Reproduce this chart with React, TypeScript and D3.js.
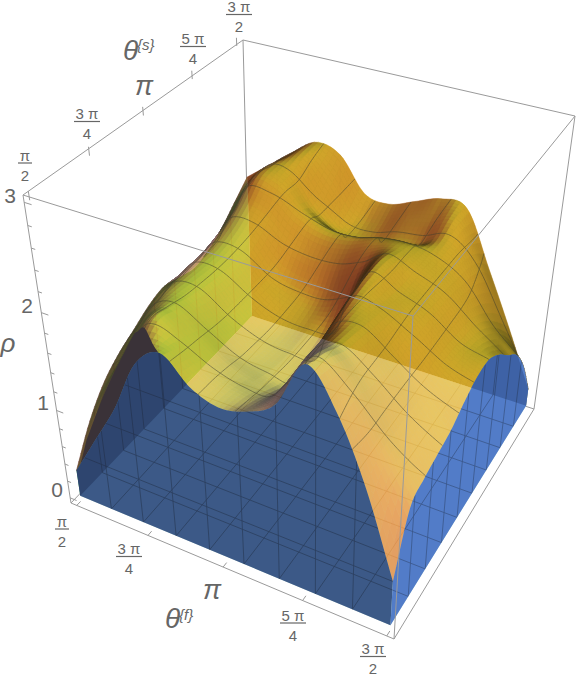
import React from 'react';
import * as d3 from 'd3';

const W = 576, H = 679;
// rho on a grid of theta_f (columns) by theta_s (rows)
const row00 = [0.30,0.75,1.20,1.75,1.95,1.72,1.62,1.68,1.85,2.32,1.98,1.35,0.50];
const row01 = [0.65,1.15,1.60,2.00,1.88,1.68,1.58,1.60,1.90,2.25,1.98,1.50,1.05];
const row02 = [0.90,1.30,1.78,1.98,1.80,1.60,1.50,1.50,1.95,2.15,1.90,1.50,1.15];
const row03 = [1.05,1.45,1.85,1.92,1.70,1.50,1.42,1.40,1.95,2.10,1.85,1.50,1.20];
const row04 = [1.15,1.50,1.85,1.88,1.62,1.45,1.38,1.40,2.00,2.05,1.80,1.50,1.25];
const row05 = [1.25,1.55,1.85,1.85,1.60,1.42,1.38,1.42,2.05,2.00,1.80,1.55,1.35];
const row06 = [1.30,1.55,1.85,1.85,1.60,1.45,1.42,1.50,2.08,1.95,1.80,1.55,1.42];
const row07 = [1.25,1.55,1.90,1.90,1.62,1.52,1.52,1.72,2.08,1.92,1.78,1.52,1.42];
const row08 = [1.20,1.55,2.00,2.00,1.80,1.72,1.75,1.90,2.02,1.92,1.76,1.48,1.30];
const row09 = [1.25,1.65,2.15,2.15,1.95,1.85,1.85,1.92,1.95,1.90,1.72,1.38,1.12];
const row10 = [1.35,1.80,2.15,2.18,1.88,1.68,1.66,1.74,1.78,1.90,1.68,1.22,0.95];
const row11 = [1.50,1.85,2.08,2.22,2.00,1.70,1.68,1.80,1.88,1.95,1.58,1.03,0.65];
const row12 = [1.65,1.85,2.05,2.22,2.15,1.82,1.78,1.88,1.98,1.95,1.40,0.82,0.20];
const rhoGrid = [row00,row01,row02,row03,row04,row05,row06,row07,row08,row09,row10,row11,row12];

const angleTicks = [0, 0.25, 0.5, 0.75, 1];
const rhoMajor = [0, 1, 2, 3];
const rhoMinor = d3.range(0, 3.01, 0.2);
const wallLevels = [0.5, 1.0, 1.5];
const meshSteps = d3.range(1, 9).map(k => k / 9);

// box corners on the page
const A = [71,503], B = [394,639], C = [534,409], D = [250,316];
const E = [23,195], F = [413,316], G = [575,116], Hh = [243,40];

function makeProjector() {
  const dx1=B[0]-C[0], dx2=D[0]-C[0], sx=A[0]-B[0]+C[0]-D[0];
  const dy1=B[1]-C[1], dy2=D[1]-C[1], sy=A[1]-B[1]+C[1]-D[1];
  const den=dx1*dy2-dx2*dy1;
  const g=(sx*dy2-dx2*sy)/den, h=(dx1*sy-sx*dy1)/den;
  const a=B[0]-A[0]+g*B[0], b=D[0]-A[0]+h*D[0], c=A[0];
  const d=B[1]-A[1]+g*B[1], e=D[1]-A[1]+h*D[1], f=A[1];
  let num=0, dn=0;
  const tops:[number[],number,number][]=[[F,1,0],[G,1,1],[Hh,0,1]];
  for (const [p,u,v] of tops) {
    const q=g*u+h*v;
    const ax=E[0]-p[0], bx=p[0]*q-(a*u+b*v);
    const ay=E[1]-p[1], by=p[1]*q-(d*u+e*v);
    num+=ax*bx+ay*by; dn+=ax*ax+ay*ay;
  }
  const t=num/dn;
  const k3=t-1, k1=E[0]*t-c, k2=E[1]*t-f;
  return (u:number,v:number,w:number):[number,number]=>{
    const q=g*u+h*v+k3*w+1;
    return [(a*u+b*v+k1*w+c)/q,(d*u+e*v+k2*w+f)/q];
  };
}
const proj = makeProjector();
const sU = d3.scaleLinear().domain([0,1]).range([0.02,0.98]);
const sW = d3.scaleLinear().domain([0,3]).range([0.02,0.98]);

function cr(p0:number,p1:number,p2:number,p3:number,t:number){
  return 0.5*((2*p1)+(-p0+p2)*t+(2*p0-5*p1+4*p2-p3)*t*t+(-p0+3*p1-3*p2+p3)*t*t*t);
}
function at(i:number,j:number){
  const n=rhoGrid.length-1;
  const ci=Math.max(0,Math.min(n,i)), cj=Math.max(0,Math.min(n,j));
  let val=rhoGrid[cj][ci];
  if(i<0) val=2*rhoGrid[cj][0]-rhoGrid[cj][1];
  if(i>n) val=2*rhoGrid[cj][n]-rhoGrid[cj][n-1];
  if(j<0) val=2*rhoGrid[0][ci]-rhoGrid[1][ci];
  if(j>n) val=2*rhoGrid[n][ci]-rhoGrid[n-1][ci];
  return val;
}
function rhoAt(s:number,t:number){
  const n=rhoGrid.length-1;
  const x=s*n, y=t*n;
  const i=Math.min(n-1,Math.floor(x)), j=Math.min(n-1,Math.floor(y));
  const fx=x-i, fy=y-j;
  const rows=[-1,0,1,2].map(dj=>cr(at(i-1,j+dj),at(i,j+dj),at(i+1,j+dj),at(i+2,j+dj),fx));
  return Math.max(0,cr(rows[0],rows[1],rows[2],rows[3],fy));
}
const pt=(s:number,t:number,r:number)=>proj(sU(s),sU(t),sW(r));
const surf=(s:number,t:number)=>pt(s,t,rhoAt(s,t));
const line=d3.line<[number,number]>().x(d=>d[0]).y(d=>d[1]);
const closed=(p:[number,number][])=>line(p)+'Z';

const xAxisV=[0.878,0.468,0], yAxisV=[-0.279,0.513,0.798], zAxisV=[0.373,-0.70,0.581];
const dot=(a:number[],b:number[])=>a[0]*b[0]+a[1]*b[1]+a[2]*b[2];
const norm=(a:number[])=>{const l=Math.hypot(a[0],a[1],a[2]);return a.map(x=>x/l);};
const lightR=norm([1.5,-1.5,2]), lightG=norm([1.5,1.5,2]), lightB=norm([-1.5,1.5,2]);
const base=[1.0,0.76,0.2];

function shade(n:number[]){
  let nv=[dot(xAxisV,n),dot(yAxisV,n),dot(zAxisV,n)];
  if(nv[2]<0) nv=nv.map(x=>-x);
  const lr=Math.max(0,dot(nv,lightR)), lg=Math.max(0,dot(nv,lightG)), lb=Math.max(0,dot(nv,lightB));
  const k=Math.min(1,nv[2]/0.5);
  const graze=0.3+0.7*k*k*(3-2*k);
  const left=nv[0]<0?1+0.5*nv[0]:1;
  const r=(0.30+0.40*lr+0.40*lg+0.20*lb)*graze;
  const g=(0.12+0.85*lg+0.10*lb)*graze*left;
  const b=(0.40+0.20*lr+0.20*lg+0.20*lb)*graze;
  return d3.rgb(255*Math.min(1,base[0]*r),255*Math.min(1,base[1]*g),255*Math.min(1,base[2]*b)).formatRgb();
}

function buildQuads(){
  const N=70;
  const q:{d:string,fill:string,depth:number}[]=[];
  for(let j=0;j<N;j++)for(let i=0;i<N;i++){
    const s0=i/N,s1=(i+1)/N,t0=j/N,t1=(j+1)/N;
    const r00=rhoAt(s0,t0),r10=rhoAt(s1,t0),r01=rhoAt(s0,t1),r11=rhoAt(s1,t1);
    const du=[sU(s1)-sU(s0),0,(sW(r10)+sW(r11)-sW(r00)-sW(r01))/2];
    const dv=[0,sU(t1)-sU(t0),(sW(r01)+sW(r11)-sW(r00)-sW(r10))/2];
    const n=norm([du[1]*dv[2]-du[2]*dv[1],du[2]*dv[0]-du[0]*dv[2],du[0]*dv[1]-du[1]*dv[0]]);
    const c=[sU((s0+s1)/2),sU((t0+t1)/2),sW((r00+r10+r01+r11)/4)];
    q.push({
      d:closed([pt(s0,t0,r00),pt(s1,t0,r10),pt(s1,t1,r11),pt(s0,t1,r01)]),
      fill:shade(n),
      depth:dot(zAxisV,c),
    });
  }
  return q.sort((a,b)=>a.depth-b.depth);
}

const KAPPA=0.11;
const samples=d3.range(0,1.0001,1/120);
const clamp01=(x:number)=>Math.max(0,Math.min(1,x));
// mesh curves bend with the height of the surface they run over
const meshAlongT=(k:number)=>line(samples.map(t=>{
  const s=clamp01(k+KAPPA*(rhoAt(k,t)-1.7));
  return surf(s,t);
}));
const meshAlongS=(k:number)=>line(samples.map(s=>{
  const t=clamp01(k-KAPPA*(rhoAt(s,k)-1.7));
  return surf(s,t);
}));

const floorPoly=closed([pt(0,0,0),pt(1,0,0),pt(1,1,0),pt(0,1,0)]);
const backWall=closed([...samples.map(s=>surf(s,1)),pt(1,1,0),pt(0,1,0)]);
const leftWall=closed([...samples.map(t=>surf(0,t)),pt(0,1,0),pt(0,0,0)]);
const frontWall=closed([...samples.map(s=>surf(s,0)),pt(1,0,0),pt(0,0,0)]);
const rightWall=closed([...samples.map(t=>surf(1,t)),pt(1,1,0),pt(1,0,0)]);
const darkS=d3.range(0.02,0.3301,0.01);
const darkFold=closed([...darkS.map(s=>surf(s,0)),...darkS.slice().reverse().map(s=>surf(s,Math.max(0,0.14*(1-Math.abs(s-0.15)/0.18))))]);

const GRAY='#9a9a9a', TXT='#666666', FONT='"Liberation Sans", Arial, sans-serif';

function Frac({x,y,num,den}:{x:number,y:number,num:string,den:string}){
  const half=num.length>1?13:7;
  return <g fill={TXT} fontFamily={FONT} textAnchor="middle" fontSize={15}>
    <text x={x} y={y-2.5}>{num}</text>
    <line x1={x-half} x2={x+half} y1={y} y2={y} stroke={TXT} strokeWidth={1.2}/>
    <text x={x} y={y+17.5}>{den}</text>
  </g>;
}
const Big=({x,y,t,size=21,italic=false}:{x:number,y:number,t:string,size?:number,italic?:boolean})=>
  <text x={x} y={y} fill={TXT} fontFamily={FONT} fontSize={size} textAnchor="middle" fontStyle={italic?'italic':'normal'}>{t}</text>;

export default function App(){
  const quads=buildQuads();
  const meshA=meshSteps.map(meshAlongT);
  const meshB=meshSteps.map(meshAlongS);
  const floorU=meshSteps.map(s=>line([pt(s,0,0),pt(s,1,0)]));
  const floorV=meshSteps.map(t=>line([pt(0,t,0),pt(1,t,0)]));
  const frontV=meshSteps.map(s=>line([pt(s,0,0),surf(s,0)]));
  const rightV=meshSteps.map(t=>line([pt(1,t,0),surf(1,t)]));
  const leftV=meshSteps.map(t=>line([pt(0,t,0),surf(0,t)]));
  const backV=meshSteps.map(s=>line([pt(s,1,0),surf(s,1)]));
  const frontH=wallLevels.map(r=>line([pt(0,0,r),pt(1,0,r)]));
  const e=(a:number[],b:number[])=>({x1:a[0],y1:a[1],x2:b[0],y2:b[1]});
  return (
    <svg width={W} height={H} viewBox={`0 0 ${W} ${H}`} style={{position:'absolute',left:0,top:0,background:'#fff'}}>
      <defs>
        <clipPath id="cf"><path d={frontWall}/></clipPath>
        <clipPath id="cr"><path d={rightWall}/></clipPath>
      </defs>
      {/* hidden box edges */}
      <g stroke={GRAY} strokeWidth={1}>
        <line {...e(A,D)}/><line {...e(D,C)}/><line {...e(D,Hh)}/>
      </g>
      {/* what the surface is seen against */}
      <path d={backWall} fill="#78722a"/>
      <path d={leftWall} fill="#6ec864"/>
      <path d={floorPoly} fill="#bed7d2"/>
      <g stroke="#6a5a30" strokeWidth={0.7} fill="none" opacity={0.4}>
        {floorU.map((d,i)=><path key={i} d={d!}/>)}
        {floorV.map((d,i)=><path key={i} d={d!}/>)}
        {backV.map((d,i)=><path key={i} d={d!}/>)}
        {leftV.map((d,i)=><path key={i} d={d!}/>)}
      </g>
      <g opacity={0.65}>
        {quads.map((q,i)=><path key={i} d={q.d} fill={q.fill} stroke={q.fill} strokeWidth={0.7}/>)}
      </g>
      <g stroke="#3c3c2c" strokeWidth={0.9} fill="none" opacity={0.55}>
        {meshA.map((d,i)=><path key={i} d={d!}/>)}
        {meshB.map((d,i)=><path key={'b'+i} d={d!}/>)}
      </g>
      <path d={darkFold} fill="#3a3238"/>
      {/* front wall, with the far walls showing through */}
      <path d={frontWall} fill="#3c5a87"/>
      <g clipPath="url(#cf)">
        <path d={leftWall} fill="#2f4670"/>
        <g stroke="#1e2a3c" strokeWidth={0.8} fill="none" opacity={0.55}>
          {floorU.map((d,i)=><path key={i} d={d!}/>)}
          {floorV.map((d,i)=><path key={i} d={d!}/>)}
          {leftV.map((d,i)=><path key={i} d={d!}/>)}
          {frontV.map((d,i)=><path key={i} d={d!}/>)}
          {frontH.map((d,i)=><path key={i} d={d!}/>)}
        </g>
      </g>
      <path d={rightWall} fill="#527dc8"/>
      <g clipPath="url(#cr)">
        <path d={backWall} fill="#3f63a6"/>
        <g stroke="#1e2a3c" strokeWidth={0.8} fill="none" opacity={0.45}>
          {floorU.map((d,i)=><path key={i} d={d!}/>)}
          {floorV.map((d,i)=><path key={i} d={d!}/>)}
          {rightV.map((d,i)=><path key={i} d={d!}/>)}
          {backV.map((d,i)=><path key={i} d={d!}/>)}
        </g>
      </g>
      {/* near box edges */}
      <g stroke={GRAY} strokeWidth={1}>
        <line {...e(A,B)}/><line {...e(B,C)}/><line {...e(A,E)}/><line {...e(B,F)}/><line {...e(C,G)}/>
        <line {...e(E,F)}/><line {...e(F,G)}/><line {...e(G,Hh)}/><line {...e(Hh,E)}/>
      </g>
      {/* ticks */}
      <g stroke={GRAY} strokeWidth={1}>
        {angleTicks.map((a,i)=>{const p=proj(sU(a),0,0),q=proj(sU(a),0.018,0);return <line key={i} {...e(p,q)}/>;})}
        {angleTicks.map((a,i)=>{const p=proj(0,sU(a),1),q=proj(0,sU(a),0.975);return <line key={'s'+i} {...e(p,q)}/>;})}
        {rhoMinor.map((r,i)=>{const p=proj(0,0,sW(r)),q=proj(rhoMajor.includes(Math.round(r*10)/10)?0.022:0.012,0,sW(r));return <line key={'r'+i} {...e(p,q)}/>;})}
      </g>
      {/* labels */}
      <Big x={10} y={203} t="3"/>
      <Big x={27} y={313} t="2"/>
      <Big x={43} y={410} t="1"/>
      <Big x={57} y={497} t="0"/>
      <Big x={8} y={352} t="ρ" size={26} italic/>
      <Frac x={25} y={163} num="π" den="2"/>
      <Frac x={87} y={121.5} num="3 π" den="4"/>
      <Big x={144} y={95} t="π" size={27} italic/>
      <Frac x={193} y={46.5} num="5 π" den="4"/>
      <Frac x={239} y={14.5} num="3 π" den="2"/>
      <text x={123} y={60} fill={TXT} fontFamily={FONT} fontSize={28} fontStyle="italic">θ</text>
      <text x={137} y={50} fill={TXT} fontFamily={FONT} fontSize={15} fontStyle="italic">{'{s}'}</text>
      <Frac x={62} y={529} num="π" den="2"/>
      <Frac x={129} y={556.5} num="3 π" den="4"/>
      <Big x={212} y={599} t="π" size={27} italic/>
      <text x={165} y={628} fill={TXT} fontFamily={FONT} fontSize={28} fontStyle="italic">θ</text>
      <text x={179} y={620} fill={TXT} fontFamily={FONT} fontSize={15} fontStyle="italic">{'{f}'}</text>
      <Frac x={293} y={623} num="5 π" den="4"/>
      <Frac x={373} y={656.5} num="3 π" den="2"/>
    </svg>
  );
}
